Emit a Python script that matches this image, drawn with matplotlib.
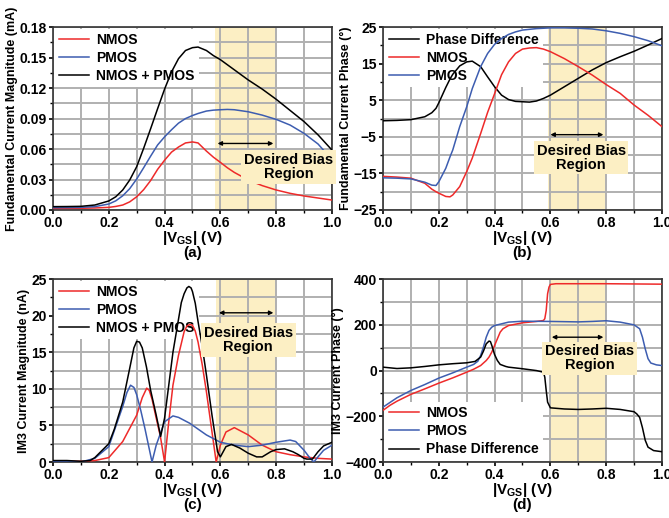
import matplotlib.pyplot as plt
from matplotlib.ticker import MultipleLocator, FixedLocator

plt.rcParams['font.family'] = 'Liberation Sans'
plt.rcParams['font.weight'] = 'bold'
plt.rcParams['axes.labelweight'] = 'bold'
plt.rcParams['mathtext.fontset'] = 'custom'
plt.rcParams['mathtext.rm'] = 'Liberation Sans:bold'

RED = '#ee2a2a'
BLUE = '#3d5db0'
BLACK = '#000000'
SHADE = '#fcefc4'

# (a) fundamental current magnitude, mA
xa = [0.0, 0.05, 0.1, 0.15, 0.2, 0.225, 0.25, 0.275, 0.3, 0.325, 0.35,
      0.375, 0.4, 0.425, 0.45, 0.475, 0.5, 0.52, 0.55, 0.575, 0.6, 0.625,
      0.65, 0.7, 0.75, 0.8, 0.85, 0.9, 0.95, 1.0]
a_nmos = [0.0016, 0.0016, 0.0017, 0.002, 0.0026, 0.0035, 0.0049, 0.008,
          0.013, 0.020, 0.029, 0.040, 0.049, 0.057, 0.062, 0.066, 0.067,
          0.066, 0.058, 0.052, 0.0469, 0.0416, 0.037, 0.0295, 0.024, 0.0197,
          0.0164, 0.0138, 0.0118, 0.0098]
a_pmos = [0.0023, 0.0024, 0.0026, 0.0033, 0.0059, 0.009, 0.014, 0.021,
          0.0305, 0.0416, 0.053, 0.064, 0.072, 0.079, 0.0855, 0.09, 0.093,
          0.095, 0.0974, 0.0983, 0.0987, 0.099, 0.0987, 0.0967, 0.0934,
          0.0892, 0.0836, 0.0754, 0.065, 0.0495]
a_sum = [0.0033, 0.0034, 0.0036, 0.0049, 0.0089, 0.013, 0.0197, 0.0295,
         0.0426, 0.0607, 0.080, 0.0997, 0.119, 0.136, 0.149, 0.157, 0.1598,
         0.1604, 0.157, 0.152, 0.148, 0.143, 0.138, 0.128, 0.119, 0.109,
         0.098, 0.087, 0.074, 0.059]

# (b) fundamental current phase, deg
xb = [0.0, 0.05, 0.1, 0.15, 0.175, 0.19, 0.2, 0.225, 0.24, 0.25, 0.275, 0.3,
      0.32, 0.35, 0.375, 0.4, 0.425, 0.45, 0.475, 0.5, 0.525, 0.55, 0.575,
      0.6, 0.65, 0.7, 0.75, 0.8, 0.85, 0.9, 0.95, 1.0]
b_diff = [-0.6, -0.5, -0.3, 0.5, 1.6, 2.8, 4.3, 8.5, 10.8, 12.1, 14.4, 15.5,
          15.7, 14.2, 11.4, 8.7, 6.4, 5.2, 4.7, 4.6, 4.5, 4.8, 5.5, 6.4, 8.7,
          11.0, 13.3, 15.3, 16.9, 18.4, 20.1, 21.9]
b_nmos = [-15.8, -16.0, -16.3, -17.7, -19.3, -20.0, -20.4, -21.3, -21.4,
          -20.9, -18.6, -14.5, -10.8, -4.1, 1.7, 6.8, 12.0, 15.5, 17.8, 19.0,
          19.3, 19.4, 19.0, 18.3, 16.4, 14.2, 11.9, 9.3, 6.9, 3.7, 0.9, -2.2]
b_pmos = [-16.2, -16.3, -16.5, -17.4, -18.2, -18.3, -17.3, -13.6, -10.5,
          -8.6, -2.2, 3.2, 8.2, 14.2, 17.8, 20.3, 21.9, 23.0, 23.7, 24.2,
          24.4, 24.6, 24.7, 24.8, 24.8, 24.7, 24.5, 24.0, 23.3, 22.4, 21.3,
          19.9]

# (c) IM3 current magnitude, nA
xc_n = [0.0, 0.1, 0.15, 0.2, 0.25, 0.3, 0.32, 0.336, 0.345, 0.355, 0.37,
        0.385, 0.4, 0.415, 0.43, 0.45, 0.47, 0.48, 0.49, 0.5, 0.51, 0.52,
        0.535, 0.55, 0.57, 0.585, 0.6, 0.62, 0.65, 0.68, 0.7, 0.75, 0.8,
        0.85, 0.9, 0.95, 1.0]
c_nmos = [0.1, 0.1, 0.2, 0.6, 2.8, 6.4, 8.8, 10.1, 9.8, 8.6, 6.0, 3.5, 0.0,
          5.5, 10.5, 14.6, 17.8, 18.6, 18.8, 18.7, 17.9, 16.4, 13.3, 9.6,
          4.1, 0.0, 2.3, 4.1, 4.7, 4.1, 3.7, 2.3, 1.4, 1.0, 0.7, 0.5, 0.4]
xc_p = [0.0, 0.05, 0.1, 0.15, 0.2, 0.25, 0.265, 0.278, 0.29, 0.3, 0.315,
        0.33, 0.345, 0.355, 0.37, 0.4, 0.43, 0.45, 0.49, 0.55, 0.6, 0.65,
        0.7, 0.75, 0.8, 0.85, 0.87, 0.9, 0.92, 0.935, 0.95, 0.97, 1.0]
c_pmos = [0.1, 0.1, 0.0, 0.5, 2.1, 7.6, 9.5, 10.5, 10.2, 9.2, 7.0, 4.5, 1.8,
          0.0, 2.3, 5.5, 6.3, 6.1, 5.3, 3.7, 2.7, 2.3, 2.1, 2.3, 2.7, 3.0,
          2.8, 1.6, 0.6, 0.0, 0.7, 1.6, 2.3]
xc_s = [0.0, 0.05, 0.1, 0.133, 0.15, 0.2, 0.22, 0.25, 0.275, 0.29, 0.3,
        0.31, 0.32, 0.335, 0.35, 0.37, 0.386, 0.4, 0.43, 0.46, 0.47, 0.48,
        0.487, 0.495, 0.5, 0.51, 0.52, 0.535, 0.55, 0.57, 0.59, 0.6, 0.62,
        0.64, 0.67, 0.7, 0.73, 0.75, 0.78, 0.8, 0.83, 0.86, 0.88, 0.9, 0.91,
        0.93, 0.95, 0.97, 1.0]
c_sum = [0.2, 0.2, 0.1, 0.2, 0.6, 2.5, 4.5, 8.2, 12.8, 15.6, 16.5, 16.4,
         15.6, 13.0, 9.8, 6.4, 3.5, 6.0, 15.0, 21.8, 23.0, 23.8, 24.0, 23.8,
         23.3, 21.7, 19.2, 15.8, 11.9, 6.4, 1.4, 0.7, 2.1, 2.4, 1.9, 1.2,
         0.7, 0.7, 1.4, 1.7, 1.8, 1.4, 1.0, 0.5, 0.4, 0.4, 1.4, 2.2, 2.7]

# (d) IM3 current phase, deg
xd_n = [0.0, 0.025, 0.05, 0.1, 0.15, 0.2, 0.25, 0.3, 0.325, 0.35, 0.37,
        0.38, 0.39, 0.4, 0.41, 0.42, 0.43, 0.45, 0.5, 0.55, 0.575, 0.58,
        0.585, 0.59, 0.595, 0.6, 0.62, 0.7, 0.8, 0.9, 1.0]
d_nmos = [-174, -152, -134, -104, -80, -55, -32, -7, 6, 22, 44, 59, 81, 110,
          139, 168, 183, 197, 209, 215, 219, 227, 263, 336, 365, 377, 380,
          380, 380, 379, 378]
xd_p = [0.0, 0.05, 0.1, 0.15, 0.2, 0.25, 0.3, 0.325, 0.34, 0.35, 0.36, 0.37,
        0.38, 0.39, 0.4, 0.45, 0.5, 0.6, 0.7, 0.75, 0.8, 0.85, 0.9, 0.92,
        0.93, 0.94, 0.95, 0.96, 0.98, 1.0]
d_pmos = [-160, -119, -87, -61, -33, -10, 15, 27, 41, 66, 103, 146, 176, 190,
          197, 212, 216, 215, 213, 215, 218, 212, 200, 183, 146, 95, 52, 33,
          25, 22]
xd_d = [0.0, 0.05, 0.1, 0.15, 0.2, 0.25, 0.3, 0.33, 0.35, 0.36, 0.37, 0.38,
        0.385, 0.39, 0.4, 0.41, 0.42, 0.44, 0.45, 0.5, 0.55, 0.575, 0.58,
        0.585, 0.59, 0.6, 0.65, 0.7, 0.75, 0.8, 0.85, 0.9, 0.91, 0.92, 0.93,
        0.94, 0.95, 0.97, 1.0]
d_diff = [15, 9, 12, 18, 25, 30, 34, 40, 59, 85, 117, 129, 127, 110, 70, 44,
          27, 18, 15, 8, 0, -7, -29, -87, -138, -163, -168, -170, -168, -165,
          -170, -180, -190, -205, -250, -305, -335, -350, -355]

fig = plt.figure(figsize=(6.69, 5.18), dpi=100)
W, H = 0.417, 0.353
ax_a = fig.add_axes([0.0792, 0.5946, W, H])
ax_b = fig.add_axes([0.5725, 0.5946, W, H])
ax_c = fig.add_axes([0.0792, 0.1081, W, H])
ax_d = fig.add_axes([0.5725, 0.1081, W, H])


def estilo(ax, ymin, ymax, ymaj, shade, ylabel, letra):
    ax.set_xlim(0, 1)
    ax.set_ylim(ymin, ymax)
    ax.xaxis.set_major_locator(MultipleLocator(0.2))
    ax.xaxis.set_minor_locator(MultipleLocator(0.1))
    ax.yaxis.set_major_locator(MultipleLocator(ymaj))
    ax.yaxis.set_minor_locator(MultipleLocator(ymaj / 2))
    ax.grid(which='both', color='#b0b0b0', linewidth=1.4, zorder=0)
    ax.set_axisbelow(True)
    ax.axvspan(shade, 0.8, color=SHADE, zorder=0.5, linewidth=0)
    ax.tick_params(which='both', direction='out', labelsize=10, pad=1.5)
    ax.tick_params(which='major', length=3, width=1.2)
    ax.tick_params(which='minor', length=2, width=1)
    for s in ax.spines.values():
        s.set_linewidth(1.2)
        s.set_color('#333333')
    ax.set_ylabel(ylabel, fontsize=9, labelpad=1)
    ax.set_xlabel('|V$_{\\mathregular{GS}}$| (V)', fontsize=11, labelpad=-1)
    ax.text(0.5, -0.235, letra, transform=ax.transAxes, ha='center',
            va='center', fontsize=11)


def regiao(ax, y_seta, x_txt, y_txt, x0):
    ax.annotate('', xy=(x0, y_seta), xytext=(0.8, y_seta),
                arrowprops=dict(arrowstyle='<|-|>', color='black', lw=1,
                                mutation_scale=6), zorder=4)
    ax.text(x_txt, y_txt, 'Desired Bias\nRegion', ha='center', va='center',
            fontsize=10.5, linespacing=1.0, zorder=4,
            bbox=dict(facecolor=SHADE, edgecolor='none', pad=2))


def legenda(ax, loc):
    leg = ax.legend(loc=loc, frameon=True, fontsize=10, handlelength=2.2,
                    handletextpad=0.5, labelspacing=0.3, borderaxespad=0.1,
                    borderpad=0.3, fancybox=False, framealpha=1,
                    edgecolor='none', facecolor='white')
    leg.set_zorder(2.5)


lw = 1.1

estilo(ax_a, 0, 0.18, 0.03, 0.58, 'Fundamental Current Magnitude (mA)', '(a)')
ax_a.yaxis.set_major_formatter(plt.FormatStrFormatter('%.2f'))
ax_a.plot(xa, a_nmos, color=RED, lw=lw, label='NMOS', zorder=3)
ax_a.plot(xa, a_pmos, color=BLUE, lw=lw, label='PMOS', zorder=3)
ax_a.plot(xa, a_sum, color=BLACK, lw=lw, label='NMOS + PMOS', zorder=3)
legenda(ax_a, 'upper left')
regiao(ax_a, 0.0655, 0.845, 0.0425, 0.58)

estilo(ax_b, -25, 25, 10, 0.59, 'Fundamental Current Phase (°)', '(b)')
ax_b.yaxis.set_major_locator(FixedLocator([-25, -15, -5, 5, 15, 25]))
ax_b.yaxis.set_minor_locator(FixedLocator([-20, -10, 0, 10, 20]))
ax_b.plot(xb, b_diff, color=BLACK, lw=lw, label='Phase Difference', zorder=3)
ax_b.plot(xb, b_nmos, color=RED, lw=lw, label='NMOS', zorder=3)
ax_b.plot(xb, b_pmos, color=BLUE, lw=lw, label='PMOS', zorder=3)
legenda(ax_b, 'upper left')
regiao(ax_b, -4.4, 0.71, -10.7, 0.59)

estilo(ax_c, 0, 25, 5, 0.585, 'IM3 Current Magnitude (nA)', '(c)')
ax_c.plot(xc_n, c_nmos, color=RED, lw=lw, label='NMOS', zorder=3)
ax_c.plot(xc_p, c_pmos, color=BLUE, lw=lw, label='PMOS', zorder=3)
ax_c.plot(xc_s, c_sum, color=BLACK, lw=lw, label='NMOS + PMOS', zorder=3)
legenda(ax_c, 'upper left')
regiao(ax_c, 20.4, 0.70, 16.7, 0.585)

estilo(ax_d, -400, 400, 200, 0.595, 'IM3 Current Phase (°)', '(d)')
ax_d.plot(xd_n, d_nmos, color=RED, lw=lw, label='NMOS', zorder=3)
ax_d.plot(xd_p, d_pmos, color=BLUE, lw=lw, label='PMOS', zorder=3)
ax_d.plot(xd_d, d_diff, color=BLACK, lw=lw, label='Phase Difference', zorder=3)
legenda(ax_d, 'lower left')
regiao(ax_d, 146, 0.74, 53, 0.595)

fig.savefig('out.png', dpi=100)
